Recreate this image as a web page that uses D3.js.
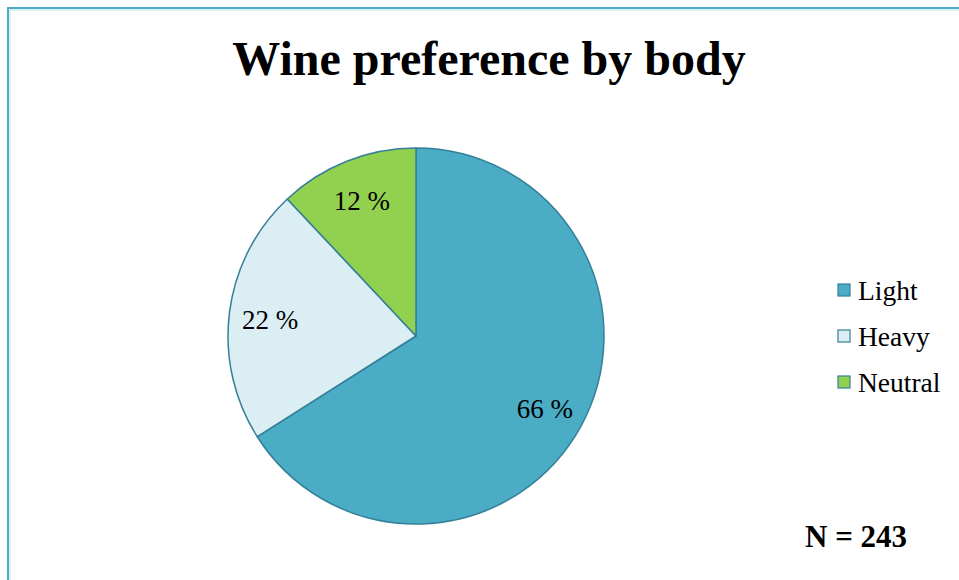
<!DOCTYPE html>
<html>
<head>
<meta charset="utf-8">
<script src="https://cdn.jsdelivr.net/npm/d3@7"></script>
<style>
  html, body { margin: 0; padding: 0; background: #fff; }
  svg { display: block; }
</style>
</head>
<body>
<svg id="chart" width="959" height="580"></svg>
<script>
// Survey answers: preferred wine body (percent of respondents)
const categories = ["Light", "Heavy", "Neutral"];
const shares = [66, 22, 12];
const colors = ["#4BACC6", "#DAEEF3", "#92D050"];
const titleText = "Wine preference by body";
const sampleText = "N = 243";

const svg = d3.select("#chart");
const W = 959, H = 580;
const serif = "'Liberation Serif', 'Times New Roman', serif";

// frame around the chart area
svg.append("rect")
  .attr("x", 8).attr("y", 8).attr("width", W + 20).attr("height", H + 20)
  .attr("fill", "none").attr("stroke", "#4BACC6").attr("stroke-width", 2);
svg.append("rect")
  .attr("x", 10).attr("y", 10).attr("width", W + 20).attr("height", H + 20)
  .attr("fill", "none").attr("stroke", "#C5E5EE").attr("stroke-width", 1.2);

svg.append("text")
  .attr("x", 489).attr("y", 75)
  .attr("text-anchor", "middle")
  .attr("font-family", serif)
  .attr("font-weight", "bold")
  .attr("font-size", 48)
  .attr("fill", "#000")
  .text(titleText);

const cx = 416, cy = 336, R = 188;
const data = categories.map((c, i) => ({ cat: c, value: shares[i], color: colors[i] }));

const pie = d3.pie().value(d => d.value).sort(null);
const arc = d3.arc().innerRadius(0).outerRadius(R);
const labelArc = d3.arc().innerRadius(147).outerRadius(147);

const g = svg.append("g").attr("transform", `translate(${cx},${cy})`);
const arcs = pie(data);

g.selectAll("path.slice").data(arcs).join("path")
  .attr("class", "slice")
  .attr("d", arc)
  .attr("fill", d => d.data.color)
  .attr("stroke", "#357F98")
  .attr("stroke-width", 1.5)
  .attr("stroke-linejoin", "round");

g.selectAll("text.lbl").data(arcs).join("text")
  .attr("class", "lbl")
  .attr("transform", d => `translate(${labelArc.centroid(d)})`)
  .attr("dy", 2)
  .attr("text-anchor", "middle")
  .attr("dominant-baseline", "central")
  .attr("font-family", serif)
  .attr("font-size", 27)
  .attr("fill", "#000")
  .text(d => d.data.value + " %");

// legend
const legend = svg.append("g").attr("transform", "translate(838,290)");
const rows = legend.selectAll("g").data(data).join("g")
  .attr("transform", (d, i) => `translate(0,${i * 46})`);
rows.append("rect")
  .attr("x", 0).attr("y", -6).attr("width", 12).attr("height", 12)
  .attr("fill", d => d.color)
  .attr("stroke", "#357F98").attr("stroke-width", 1.2);
rows.append("text")
  .attr("x", 20).attr("y", 0)
  .attr("dominant-baseline", "central")
  .attr("font-family", serif)
  .attr("font-size", 27.5)
  .attr("fill", "#000")
  .text(d => d.cat);

svg.append("text")
  .attr("x", 805).attr("y", 547)
  .attr("font-family", serif)
  .attr("font-weight", "bold")
  .attr("font-size", 31)
  .attr("fill", "#000")
  .text(sampleText);
</script>
</body>
</html>
